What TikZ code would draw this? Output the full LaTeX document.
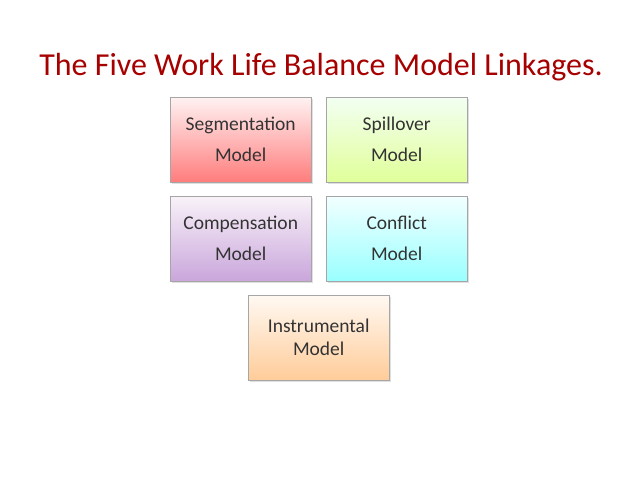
\documentclass[tikz,border=0pt]{standalone}
\usepackage{fontspec}
\setmainfont{Carlito}
\usetikzlibrary{shadows}
\begin{document}
\begin{tikzpicture}[x=1pt,y=-1pt,
  mbox/.style={draw=gray!70,minimum width=141pt,minimum height=85pt,anchor=north west,
    align=center,font=\fontsize{19.5}{31}\selectfont,text=black!80,drop shadow={opacity=0.25,shadow xshift=1.5pt,shadow yshift=-1.5pt}}]
\useasboundingbox (0,0) rectangle (638,479);
\node[text=red!65!black,font=\fontsize{32}{34}\selectfont] (title) at (321,67) {The Five Work Life Balance Model Linkages.};
\node[mbox,top color=red!5,bottom color=red!35!pink] (seg) at (170,97) {Segmentation\\Model};
\node[mbox,top color=green!5,bottom color=green!30!yellow!40] (spill) at (326,97) {Spillover\\Model};
\node[mbox,top color=violet!5,bottom color=blue!20!violet!35] (comp) at (170,196) {Compensation\\Model};
\node[mbox,top color=cyan!5,bottom color=cyan!40] (conf) at (326,196) {Conflict\\Model};
\node[mbox,top color=orange!5,bottom color=orange!40,font=\fontsize{19.5}{23}\selectfont] (instr) at (248,295) {Instrumental\\Model};
\end{tikzpicture}
\end{document}
